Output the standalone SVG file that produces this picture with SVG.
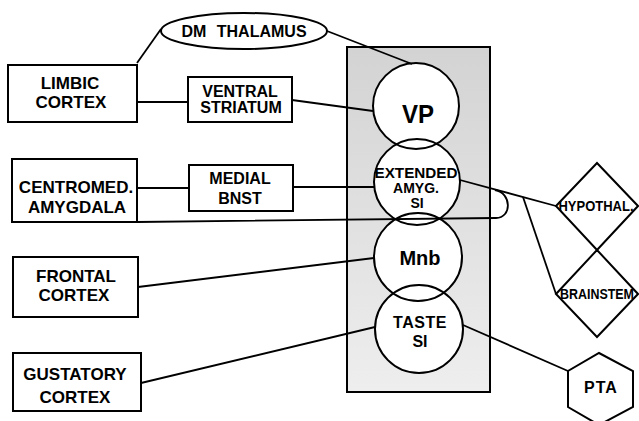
<svg xmlns="http://www.w3.org/2000/svg" width="639" height="421" viewBox="0 0 639 421">
<style>
  .box{fill:#fff;stroke:#000;stroke-width:2}
  .shape{fill:#fff;stroke:#000;stroke-width:2}
  .ring{fill:none;stroke:#000;stroke-width:2}
  .ln{fill:none;stroke:#000;stroke-width:1.8}
  text{font-family:"Liberation Sans",Arial,sans-serif;font-weight:bold;fill:#000;text-anchor:middle}
  .t16{font-size:16px}
  .t17{font-size:17px}
</style>
<defs>
  <linearGradient id="shade" x1="0" y1="0" x2="0" y2="1">
    <stop offset="0" stop-color="#d3d3d3"/>
    <stop offset="1" stop-color="#eeeeee"/>
  </linearGradient>
</defs>
<rect width="639" height="421" fill="#fff"/>

<g id="region">
  <rect x="347" y="47" width="143" height="345" fill="url(#shade)" stroke="#000" stroke-width="2"/>
</g>

<g id="circle-fills" fill="#fff">
  <circle cx="416" cy="106" r="43"/>
  <circle cx="417" cy="182" r="43"/>
  <circle cx="418" cy="257" r="44"/>
  <circle cx="419" cy="329" r="44"/>
</g>

<g id="connectors" class="ln">
  <line x1="161" y1="29" x2="137" y2="63"/>
  <line x1="327" y1="31" x2="412" y2="64"/>
  <line x1="137" y1="102" x2="188" y2="102"/>
  <line x1="292" y1="100" x2="373" y2="111"/>
  <line x1="137" y1="188" x2="189" y2="188"/>
  <line x1="293" y1="187" x2="374" y2="187"/>
  <path d="M137,222 L496,218 C512,218 512,193 495,190"/>
  <line x1="460" y1="180" x2="556" y2="206"/>
  <line x1="523" y1="197" x2="556" y2="294"/>
  <line x1="138" y1="287" x2="374" y2="258"/>
  <line x1="141" y1="383" x2="375" y2="327"/>
  <line x1="463" y1="325" x2="568" y2="371"/>
</g>

<g id="dm-thalamus">
  <ellipse class="shape" cx="244" cy="31" rx="83" ry="18"/>
  <text class="t16" x="244" y="37" word-spacing="6">DM THALAMUS</text>
</g>

<g id="limbic-cortex">
  <rect class="box" x="8" y="65" width="129" height="57"/>
  <text class="t17" x="70" y="89">LIMBIC</text>
  <text class="t17" x="71" y="108">CORTEX</text>
</g>

<g id="ventral-striatum">
  <rect class="box" x="188" y="77" width="104" height="45"/>
  <text class="t16" x="240" y="97">VENTRAL</text>
  <text class="t16" x="241" y="113">STRIATUM</text>
</g>

<g id="centromed-amygdala">
  <rect class="box" x="12" y="159" width="125" height="63"/>
  <text class="t17" x="76" y="193">CENTROMED.</text>
  <text class="t17" x="77" y="213">AMYGDALA</text>
</g>

<g id="medial-bnst">
  <rect class="box" x="189" y="165" width="104" height="46"/>
  <text class="t16" x="240" y="184">MEDIAL</text>
  <text class="t16" x="240" y="204">BNST</text>
</g>

<g id="frontal-cortex">
  <rect class="box" x="13" y="257" width="125" height="60"/>
  <text class="t17" x="76" y="282">FRONTAL</text>
  <text class="t17" x="74" y="301">CORTEX</text>
</g>

<g id="gustatory-cortex">
  <rect class="box" x="13" y="353" width="128" height="58"/>
  <text class="t17" x="75" y="380">GUSTATORY</text>
  <text class="t17" x="75" y="403">CORTEX</text>
</g>

<g id="vp">
  <circle class="ring" cx="416" cy="106" r="43"/>
  <text x="418" y="123" style="font-size:26px" textLength="32" lengthAdjust="spacingAndGlyphs">VP</text>
</g>

<g id="extended-amyg">
  <circle class="ring" cx="417" cy="182" r="43"/>
  <text x="416" y="178" style="font-size:14px" textLength="83" lengthAdjust="spacingAndGlyphs">EXTENDED</text>
  <text x="416" y="193" style="font-size:14px">AMYG.</text>
  <text x="417" y="208" style="font-size:14px">SI</text>
</g>

<g id="mnb">
  <circle class="ring" cx="418" cy="257" r="44"/>
  <text x="420" y="265" style="font-size:20px">Mnb</text>
</g>

<g id="taste-si">
  <circle class="ring" cx="419" cy="329" r="44"/>
  <text x="420" y="328" style="font-size:16px" letter-spacing="0.5">TASTE</text>
  <text x="420" y="347" style="font-size:16px">SI</text>
</g>

<g id="hypothal">
  <polygon class="shape" style="fill:none" points="556,206 597,163 638,206 597,250"/>
  <text x="596" y="211" style="font-size:14px" textLength="75" lengthAdjust="spacingAndGlyphs">HYPOTHAL.</text>
</g>

<g id="brainstem">
  <polygon class="shape" style="fill:none" points="556,294 597,250 638,294 597,337"/>
  <text x="597" y="299" style="font-size:14px" textLength="74" lengthAdjust="spacingAndGlyphs">BRAINSTEM</text>
</g>

<g id="pta">
  <polygon class="shape" points="599,353 633,371 633,407 599,425 568,407 568,371"/>
  <text x="601" y="393" style="font-size:16px" letter-spacing="1">PTA</text>
</g>
</svg>
